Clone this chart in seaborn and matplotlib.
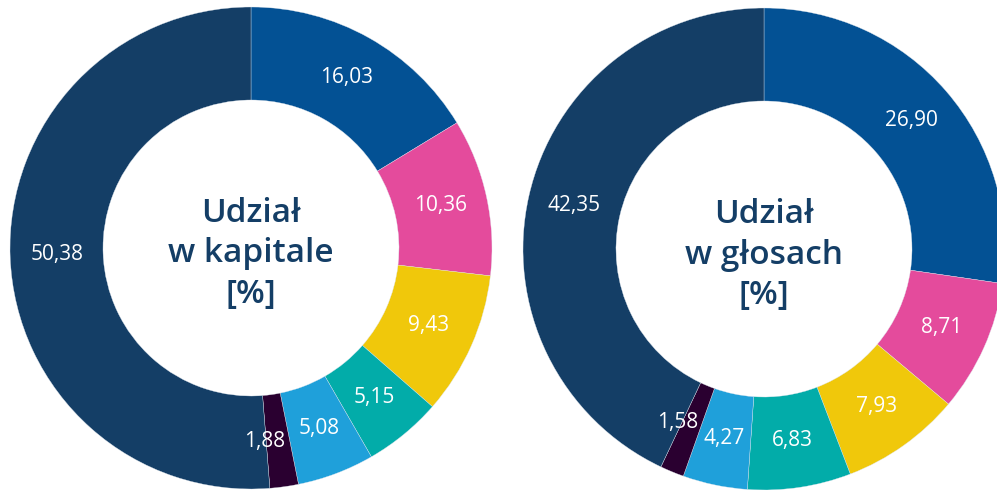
import matplotlib
matplotlib.use('Agg')
import matplotlib.pyplot as plt
import seaborn as sns
import numpy as np

# shares, clockwise from the top
labels_kapital = ["16,03", "10,36", "9,43", "5,15", "5,08", "1,88", "50,38"]
values_kapital = [16.03, 10.36, 9.43, 5.15, 5.08, 1.88, 50.38]

labels_glosy = ["26,90", "8,71", "7,93", "6,83", "4,27", "1,58", "42,35"]
values_glosy = [26.90, 8.71, 7.93, 6.83, 4.27, 1.58, 42.35]

colors = ["#035194", "#E44B9C", "#F0C80B", "#02ACA9", "#1FA0DA", "#2A0030", "#143E66"]
titles = ["Udział\nw kapitale\n[%]", "Udział\nw głosach\n[%]"]

sns.set_theme(style="white")
plt.rcParams['font.family'] = ['Open Sans', 'DejaVu Sans']

W, H = 997, 490
fig = plt.figure(figsize=(W / 100, H / 100), dpi=100)
ax = fig.add_axes([0, 0, 1, 1])

R = 241
ring = 93
centers = [(251, H - 248), (764, H - 249)]

for (cx, cy), vals, labs, title in zip(centers, [values_kapital, values_glosy],
                                       [labels_kapital, labels_glosy], titles):
    wedges, _ = ax.pie(vals, colors=colors, startangle=90, counterclock=False,
                       center=(cx, cy), radius=R,
                       wedgeprops=dict(width=ring, edgecolor="#dfe6ee", linewidth=0.25))
    # value labels in the middle of the ring
    total = sum(vals)
    cum = 0
    r_lab = R - ring / 2
    for v, lab in zip(vals, labs):
        mid = (cum + v / 2) / total * 360
        # tiny slices: label nudged a bit further along, as in the original
        if v < 2:
            mid += 4
        cum += v
        ang = np.deg2rad(90 - mid)
        ax.text(cx + r_lab * np.cos(ang), cy + r_lab * np.sin(ang) + 1, lab,
                ha="center", va="center", color="white", fontsize=15)
    ax.text(cx, cy - 6, title, ha="center", va="center", color="#143E66",
            fontsize=24, fontweight=600, linespacing=1.3)

ax.set_xlim(0, W)
ax.set_ylim(0, H)
ax.set_aspect("equal")
ax.axis("off")

fig.savefig("out.png", dpi=100, facecolor="white")
